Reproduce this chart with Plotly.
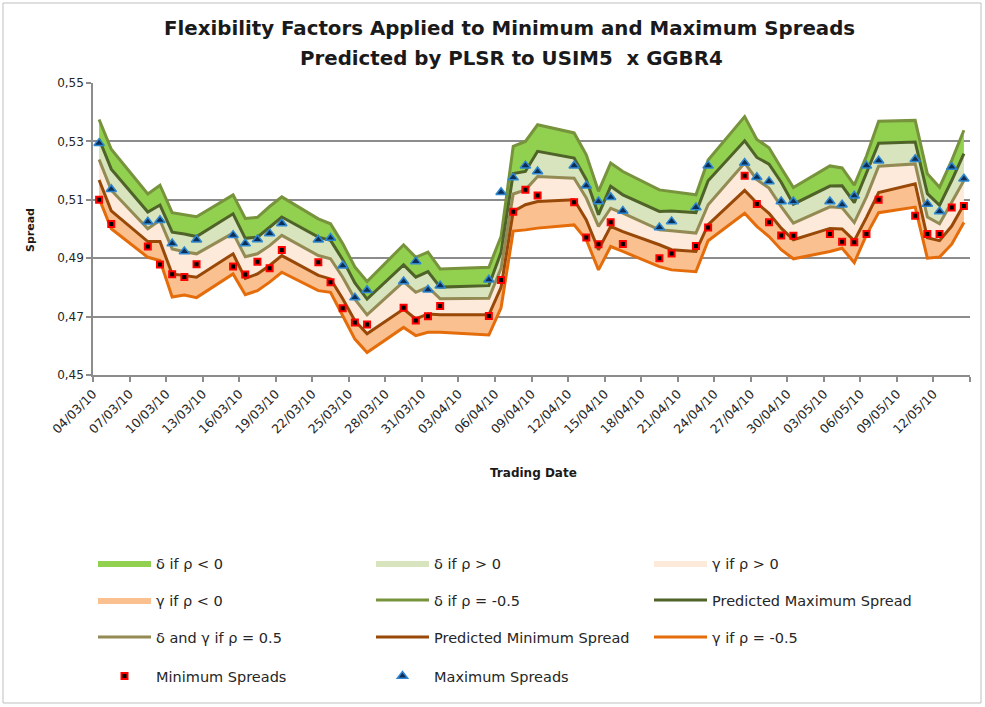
import plotly.graph_objects as go

# ---------------- data ----------------
trade_dates = [
    "2010-03-04", "2010-03-05", "2010-03-08", "2010-03-09", "2010-03-10", "2010-03-11", "2010-03-12",
    "2010-03-15", "2010-03-16", "2010-03-17", "2010-03-18", "2010-03-19", "2010-03-22", "2010-03-23",
    "2010-03-24", "2010-03-25", "2010-03-26", "2010-03-29", "2010-03-30", "2010-03-31", "2010-04-01",
    "2010-04-05", "2010-04-06", "2010-04-07", "2010-04-08", "2010-04-09", "2010-04-12", "2010-04-13",
    "2010-04-14", "2010-04-15", "2010-04-16", "2010-04-19", "2010-04-20", "2010-04-22", "2010-04-23",
    "2010-04-26", "2010-04-27", "2010-04-28", "2010-04-29", "2010-04-30", "2010-05-03", "2010-05-04",
    "2010-05-05", "2010-05-06", "2010-05-07", "2010-05-10", "2010-05-11", "2010-05-12", "2010-05-13",
    "2010-05-14",
]

delta_rho_neg05 = [  # δ if ρ = -0.5 (upper green edge)
    .5375, .5273, .5120, .5150, .5056, .5050, .5042, .5117, .5036, .5040, .5077, .5110, .5035, .5018,
    .4950, .4870, .4820, .4946, .4903, .4921, .4863, .4869, .4974, .5283, .5300, .5357, .5329, .5254,
    .5129, .5226, .5197, .5134, .5128, .5117, .5236, .5385, .5307, .5278, .5209, .5142, .5216, .5209,
    .5150, .5250, .5369, .5372, .5189, .5143, .5235, .5338,
]
pred_max = [
    .5308, .5205, .5058, .5082, .4989, .4983, .4974, .5052, .4968, .4972, .5006, .5041, .4972, .4961,
    .4895, .4815, .4760, .4877, .4835, .4854, .4801, .4806, .4920, .5190, .5197, .5266, .5243, .5169,
    .5049, .5146, .5117, .5060, .5062, .5056, .5165, .5302, .5245, .5222, .5160, .5085, .5147, .5148,
    .5090, .5190, .5294, .5298, .5121, .5081, .5166, .5258,
]
dg_rho_pos05 = [  # δ and γ if ρ = 0.5
    .5238, .5133, .5001, .5030, .4932, .4922, .4915, .4986, .4905, .4915, .4943, .4978, .4909, .4898,
    .4835, .4760, .4706, .4820, .4783, .4801, .4761, .4763, .4865, .5120, .5134, .5180, .5174, .5106,
    .5009, .5071, .5054, .4997, .4994, .4986, .5083, .5226, .5169, .5140, .5077, .5020, .5076, .5073,
    .5022, .5110, .5215, .5223, .5041, .5018, .5092, .5166,
]
pred_min = [
    .5168, .5062, .4957, .4957, .4846, .4840, .4835, .4915, .4831, .4846, .4875, .4909, .4841, .4829,
    .4761, .4686, .4641, .4726, .4692, .4709, .4706, .4706, .4800, .5060, .5083, .5094, .5100, .5031,
    .4929, .5009, .4991, .4946, .4929, .4923, .5015, .5132, .5089, .5054, .5003, .4963, .5002, .5000,
    .4960, .5040, .5125, .5155, .4970, .4960, .5010, .5084,
]
gamma_rho_neg05 = [  # γ if ρ = -0.5 (lower orange edge)
    .5105, .5001, .4903, .4892, .4767, .4774, .4765, .4846, .4775, .4789, .4818, .4852, .4789, .4783,
    .4703, .4623, .4577, .4663, .4635, .4646, .4646, .4637, .4730, .4993, .4997, .5003, .5014, .4963,
    .4860, .4940, .4923, .4871, .4860, .4854, .4960, .5054, .5009, .4974, .4929, .4898, .4923, .4934,
    .4885, .4980, .5056, .5075, .4900, .4904, .4948, .5022,
]
min_spreads = [
    .5100, .5017, .4940, .4878, .4845, .4836, .4879, .4872, .4844, .4888, .4866, .4928, .4886, .4818,
    .4729, .4680, .4673, .4730, .4687, .4701, .4736, .4702, .4825, .5059, .5134, .5115, .5092, .4971,
    .4948, .5023, .4949, .4900, .4916, .4942, .5005, .5182, .5086, .5023, .4978, .4977, .4983, .4956,
    .4955, .4983, .5100, .5045, .4983, .4983, .5074, .5079,
]
max_spreads = [
    .5294, .5136, .5025, .5030, .4950, .4923, .4963, .4979, .4950, .4964, .4985, .5019, .4963, .4969,
    .4874, .4765, .4790, .4820, .4889, .4792, .4806, .4826, .5126, .5176, .5217, .5197, .5217, .5148,
    .5094, .5109, .5062, .5005, .5026, .5074, .5217, .5226, .5177, .5163, .5094, .5094, .5094, .5083,
    .5114, .5217, .5234, .5239, .5086, .5060, .5212, .5172,
]

tick_dates = [
    "2010-03-04", "2010-03-07", "2010-03-10", "2010-03-13", "2010-03-16", "2010-03-19", "2010-03-22",
    "2010-03-25", "2010-03-28", "2010-03-31", "2010-04-03", "2010-04-06", "2010-04-09", "2010-04-12",
    "2010-04-15", "2010-04-18", "2010-04-21", "2010-04-24", "2010-04-27", "2010-04-30", "2010-05-03",
    "2010-05-06", "2010-05-09", "2010-05-12", "2010-05-15",
]
tick_labels = [
    "04/03/10", "07/03/10", "10/03/10", "13/03/10", "16/03/10", "19/03/10", "22/03/10",
    "25/03/10", "28/03/10", "31/03/10", "03/04/10", "06/04/10", "09/04/10", "12/04/10",
    "15/04/10", "18/04/10", "21/04/10", "24/04/10", "27/04/10", "30/04/10", "03/05/10",
    "06/05/10", "09/05/10", "12/05/10", "",
]

# ---------------- figure ----------------
FONT = "'DejaVu Sans', Verdana, sans-serif"
# Excel date axis with "between tick marks": each point sits mid-day
x = [d + " 12:00" for d in trade_dates]

fig = go.Figure()

def band(lower, upper, name, color, legend):
    fig.add_trace(go.Scatter(x=x, y=lower, mode="lines", line=dict(width=0, color=color),
                             showlegend=False, hoverinfo="skip"))
    fig.add_trace(go.Scatter(x=x, y=upper, mode="lines", line=dict(width=0, color=color),
                             fill="tonexty", fillcolor=color, name=name, legend=legend))

band(pred_max, delta_rho_neg05, "δ if ρ < 0", "#92D050", "legend")
band(dg_rho_pos05, pred_max, "δ if ρ > 0", "#D7E4BD", "legend")
band(pred_min, dg_rho_pos05, "γ if ρ > 0", "#FDEADA", "legend")
band(gamma_rho_neg05, pred_min, "γ if ρ < 0", "#FAC090", "legend2")

def line(y, name, color, legend):
    fig.add_trace(go.Scatter(x=x, y=y, mode="lines", name=name, legend=legend,
                             line=dict(color=color, width=3)))

line(delta_rho_neg05, "δ if ρ = -0.5", "#77933C", "legend2")
line(pred_max, "Predicted Maximum Spread", "#4F6228", "legend2")
line(dg_rho_pos05, "δ and γ if ρ = 0.5", "#948A54", "legend3")
line(pred_min, "Predicted Minimum Spread", "#984807", "legend3")
line(gamma_rho_neg05, "γ if ρ = -0.5", "#E46C0A", "legend3")

fig.add_trace(go.Scatter(x=x, y=min_spreads, mode="markers", name="Minimum Spreads", legend="legend4",
                         marker=dict(symbol="square", size=6, color="#000000",
                                     line=dict(color="#FF0000", width=2))))
fig.add_trace(go.Scatter(x=x, y=max_spreads, mode="markers", name="Maximum Spreads", legend="legend4",
                         marker=dict(symbol="triangle-up", size=9, color="#0D2F55",
                                     line=dict(color="#2E86D1", width=1.5))))

L, R, T, B = 93, 15, 83, 332
W, H = 985, 707
PW, PH = W - L - R, H - T - B

def px_x(px):
    return (px - L) / PW

def px_y(py):
    return (H - B - py) / PH

leg_common = dict(orientation="h", xanchor="left", yanchor="middle", entrywidth=210,
                  entrywidthmode="pixels", itemwidth=53, traceorder="normal",
                  bgcolor="rgba(0,0,0,0)",
                  font=dict(family=FONT, size=14.5, color="#262626"))

fig.update_layout(
    width=W, height=H,
    margin=dict(l=L, r=R, t=T, b=B),
    paper_bgcolor="white", plot_bgcolor="white",
    separators=",.",
    font=dict(family=FONT, color="#262626"),
    showlegend=True,
    legend=dict(x=px_x(93), y=px_y(563), **leg_common),
    legend2=dict(x=px_x(93), y=px_y(600), **leg_common),
    legend3=dict(x=px_x(93), y=px_y(637), **leg_common),
    legend4=dict(x=px_x(93), y=px_y(676), **leg_common),
    xaxis=dict(
        type="date", range=["2010-03-04", "2010-05-15"],
        tickmode="array", tickvals=tick_dates, ticktext=tick_labels,
        tickangle=-45, ticks="outside", ticklen=5, tickwidth=1.5, tickcolor="#8c8c8c",
        showline=True, linecolor="#8c8c8c", linewidth=1.5, showgrid=False,
        tickfont=dict(family=FONT, size=12.5, color="#262626"),
    ),
    yaxis=dict(
        range=[0.45, 0.55], dtick=0.02, tick0=0.45, tickformat=".2f",
        ticks="outside", ticklen=5, tickwidth=1.5, tickcolor="#8c8c8c",
        showline=True, linecolor="#8c8c8c", linewidth=1.5,
        showgrid=True, gridcolor="#8c8c8c", gridwidth=1.5, zeroline=False,
        tickfont=dict(family=FONT, size=12, color="#262626"),
    ),
    annotations=[
        dict(text="<b>Flexibility Factors Applied to Minimum and Maximum Spreads</b>",
             x=px_x(509), y=px_y(28), xref="paper", yref="paper", showarrow=False,
             xanchor="center", yanchor="middle", font=dict(family=FONT, size=19.8, color="#1a1a1a")),
        dict(text="<b>Predicted by PLSR to USIM5  x GGBR4</b>",
             x=px_x(511), y=px_y(58), xref="paper", yref="paper", showarrow=False,
             xanchor="center", yanchor="middle", font=dict(family=FONT, size=19.8, color="#1a1a1a")),
        dict(text="<b>Spread</b>", x=px_x(30), y=px_y(230), xref="paper", yref="paper",
             showarrow=False, textangle=-90, xanchor="center", yanchor="middle",
             font=dict(family=FONT, size=11, color="#1a1a1a")),
        dict(text="<b>Trading Date</b>", x=px_x(533), y=px_y(473), xref="paper", yref="paper",
             showarrow=False, xanchor="center", yanchor="middle",
             font=dict(family=FONT, size=12, color="#1a1a1a")),
    ],
    shapes=[
        dict(type="rect", xref="paper", yref="paper",
             x0=px_x(3), x1=px_x(981), y0=px_y(703), y1=px_y(3),
             line=dict(color="#bfbfbf", width=1), fillcolor="rgba(0,0,0,0)", layer="below"),
    ],
)

fig.write_html("out.html", config={"displayModeBar": False},
               post_script="document.body.style.margin='0';")
